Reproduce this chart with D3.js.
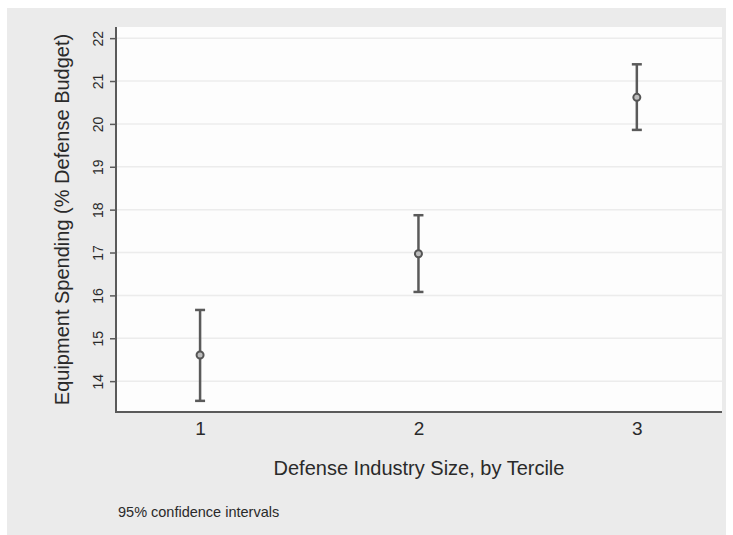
<!DOCTYPE html>
<html>
<head>
<meta charset="utf-8">
<script src="https://cdn.jsdelivr.net/npm/d3@7"></script>
<style>
  body { margin: 0; background: #fff; }
  text { font-family: "Liberation Sans", Arial, sans-serif; fill: #2a2a2a; }
</style>
</head>
<body>
<svg id="chart"></svg>
<script>
const width = 733;
const height = 535;

// data
const terciles = [1, 2, 3];
const means = [14.61, 16.97, 20.62];
const lower = [13.54, 16.08, 19.86];
const upper = [15.66, 17.87, 21.39];
const yTicks = [14, 15, 16, 17, 18, 19, 20, 21, 22];

const svg = d3.select("#chart")
    .attr("width", width)
    .attr("height", height);

// outer gray panel
svg.append("rect")
    .attr("x", 7).attr("y", 8)
    .attr("width", 719).attr("height", 527)
    .attr("fill", "#ebebeb");

const plot = { left: 116, right: 722, top: 27, bottom: 412 };

svg.append("rect")
    .attr("x", plot.left).attr("y", plot.top)
    .attr("width", plot.right - plot.left)
    .attr("height", plot.bottom - plot.top)
    .attr("fill", "#fdfdfd");

const x = d3.scaleLinear()
    .domain([0.615, 3.39])
    .range([plot.left, plot.right]);

const y = d3.scaleLinear()
    .domain([13.28, 22.26])
    .range([plot.bottom, plot.top]);

// grid lines
svg.append("g")
    .selectAll("line")
    .data(yTicks)
    .enter().append("line")
    .attr("x1", plot.left).attr("x2", plot.right)
    .attr("y1", d => y(d)).attr("y2", d => y(d))
    .attr("stroke", "#ececec")
    .attr("stroke-width", 1.5);

// y axis
const yAxis = svg.append("g")
    .attr("transform", `translate(${plot.left},0)`)
    .call(d3.axisLeft(y).tickValues(yTicks).tickSize(6).tickPadding(8));
yAxis.select(".domain").remove();
yAxis.selectAll(".tick line").attr("stroke", "#5a5a5a").attr("stroke-width", 1.5);
yAxis.selectAll(".tick text")
    .attr("font-size", 14)
    .attr("fill", "#2a2a2a")
    .attr("text-anchor", "middle")
    .attr("transform", "rotate(-90)")
    .attr("x", 0)
    .attr("dy", 0)
    .attr("y", -13);

// x axis
const xAxis = svg.append("g")
    .attr("transform", `translate(0,${plot.bottom})`)
    .call(d3.axisBottom(x).tickValues(terciles).tickSize(0).tickPadding(10).tickFormat(d3.format("d")));
xAxis.select(".domain").remove();
xAxis.selectAll(".tick text").attr("font-size", 19).attr("fill", "#2a2a2a");

// axis lines
svg.append("line")
    .attr("x1", plot.left).attr("x2", plot.left)
    .attr("y1", plot.top).attr("y2", plot.bottom + 1)
    .attr("stroke", "#5a5a5a").attr("stroke-width", 2);
svg.append("line")
    .attr("x1", plot.left - 1).attr("x2", plot.right)
    .attr("y1", plot.bottom).attr("y2", plot.bottom)
    .attr("stroke", "#5a5a5a").attr("stroke-width", 2);

// error bars
const bars = svg.append("g");
terciles.forEach((t, i) => {
    const cx = x(t);
    bars.append("line")
        .attr("x1", cx).attr("x2", cx)
        .attr("y1", y(lower[i])).attr("y2", y(upper[i]))
        .attr("stroke", "#5a5a5a").attr("stroke-width", 2.5);
    [lower[i], upper[i]].forEach(v => {
        bars.append("line")
            .attr("x1", cx - 5).attr("x2", cx + 5)
            .attr("y1", y(v)).attr("y2", y(v))
            .attr("stroke", "#5a5a5a").attr("stroke-width", 2.5);
    });
    bars.append("circle")
        .attr("cx", cx).attr("cy", y(means[i]))
        .attr("r", 3.5)
        .attr("fill", "#bdbdbd")
        .attr("stroke", "#555").attr("stroke-width", 2);
});

// titles
svg.append("text")
    .attr("transform", `translate(69,${(plot.top + plot.bottom) / 2}) rotate(-90)`)
    .attr("text-anchor", "middle")
    .attr("font-size", 20)
    .text("Equipment Spending (% Defense Budget)");

svg.append("text")
    .attr("x", (plot.left + plot.right) / 2)
    .attr("y", 475)
    .attr("text-anchor", "middle")
    .attr("font-size", 20)
    .text("Defense Industry Size, by Tercile");

svg.append("text")
    .attr("x", 118)
    .attr("y", 517)
    .attr("font-size", 14.5)
    .text("95% confidence intervals");
</script>
</body>
</html>
